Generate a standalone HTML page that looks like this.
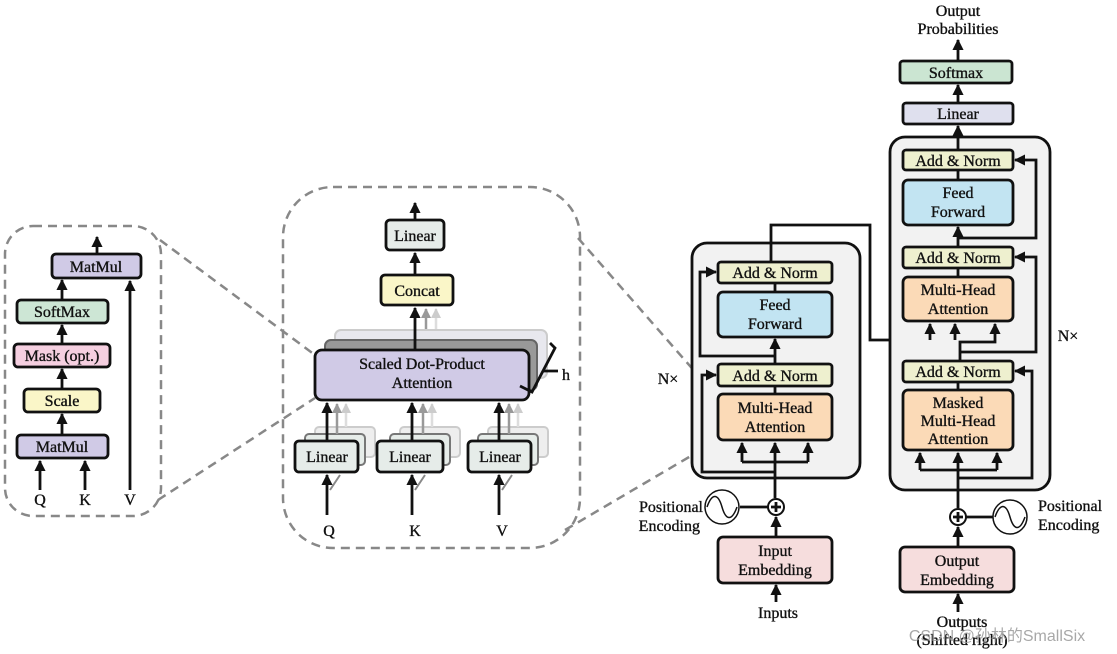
<!DOCTYPE html>
<html><head><meta charset="utf-8"><style>
html,body{margin:0;padding:0;background:#fff;}
svg{display:block;}
text{font-family:"Liberation Serif",serif;font-size:16px;fill:#111;stroke:#111;stroke-width:0.35;text-anchor:middle;}
.b{stroke:#111;stroke-width:2.8;}
.l{stroke:#111;stroke-width:2.8;fill:none;}
.d{stroke:#888;stroke-width:2.5;fill:none;stroke-dasharray:9,6;}
</style></head><body>
<svg width="1117" height="654" viewBox="0 0 1117 654" xmlns="http://www.w3.org/2000/svg">
<defs>
<marker id="a" viewBox="0 0 10 10" refX="9" refY="5" markerWidth="4" markerHeight="4.5" orient="auto"><path d="M0,0L10,5L0,10z" fill="#111"/></marker>
<marker id="ag" viewBox="0 0 10 10" refX="9" refY="5" markerWidth="4" markerHeight="4.5" orient="auto"><path d="M0,0L10,5L0,10z" fill="#999"/></marker>
<marker id="al" viewBox="0 0 10 10" refX="9" refY="5" markerWidth="4" markerHeight="4.5" orient="auto"><path d="M0,0L10,5L0,10z" fill="#ccc"/></marker>
</defs>

<path class="d" d="M160,240 L315,355 M158,500 L315,398 M578,238 L718,398 M565,530 L718,440"/>

<!-- LEFT PANEL -->
<rect class="d" x="5" y="226" width="156" height="290" rx="28"/>
<line class="l" x1="97" y1="254" x2="97" y2="237" marker-end="url(#a)"/>
<rect class="b" x="52" y="254" width="89" height="24" rx="4" fill="#d0cae6"/>
<text x="96" y="272">MatMul</text>
<line class="l" x1="62" y1="300" x2="62" y2="280" marker-end="url(#a)"/>
<rect class="b" x="17" y="300" width="91" height="23" rx="4" fill="#cde6d5"/>
<text x="62" y="317">SoftMax</text>
<line class="l" x1="62" y1="344" x2="62" y2="325" marker-end="url(#a)"/>
<rect class="b" x="14" y="344" width="96" height="23" rx="4" fill="#f5cfe0"/>
<text x="62" y="361">Mask (opt.)</text>
<line class="l" x1="62" y1="389" x2="62" y2="369" marker-end="url(#a)"/>
<rect class="b" x="24" y="389" width="76" height="23" rx="4" fill="#faf6c8"/>
<text x="62" y="406">Scale</text>
<line class="l" x1="62" y1="435" x2="62" y2="414" marker-end="url(#a)"/>
<rect class="b" x="17" y="435" width="91" height="23" rx="4" fill="#d0cae6"/>
<text x="62" y="452">MatMul</text>
<line class="l" x1="40" y1="490" x2="40" y2="461" marker-end="url(#a)"/>
<line class="l" x1="85" y1="490" x2="85" y2="461" marker-end="url(#a)"/>
<line class="l" x1="130" y1="490" x2="130" y2="281" marker-end="url(#a)"/>
<text x="40" y="505">Q</text><text x="85" y="505">K</text><text x="130" y="505">V</text>

<!-- MIDDLE PANEL -->
<rect class="d" x="283" y="187" width="297" height="361" rx="50"/>
<line class="l" x1="415" y1="220" x2="415" y2="203" marker-end="url(#a)"/>
<rect class="b" x="386" y="220" width="58" height="30" rx="4" fill="#e6ece9"/>
<text x="415" y="241">Linear</text>
<line class="l" x1="415" y1="275" x2="415" y2="253" marker-end="url(#a)"/>
<rect class="b" x="381" y="275" width="72" height="30" rx="4" fill="#faf6c8"/>
<text x="417" y="296">Concat</text>
<line stroke="#ddd" stroke-width="2.5" x1="436" y1="330" x2="436" y2="309" marker-end="url(#al)"/>
<line stroke="#999" stroke-width="2.5" x1="426" y1="340" x2="426" y2="309" marker-end="url(#ag)"/>
<rect x="335" y="330" width="212" height="48" rx="6" fill="#e8e8ee" stroke="#ccc" stroke-width="2"/>
<rect x="325" y="340" width="212" height="50" rx="6" fill="#999" stroke="#666" stroke-width="2"/>
<line class="l" x1="415" y1="350" x2="415" y2="308" marker-end="url(#a)"/>
<rect class="b" x="315" y="350" width="214" height="50" rx="7" fill="#d0cae6"/>
<text x="422" y="369">Scaled Dot-Product</text>
<text x="422" y="388">Attention</text>
<path class="l" d="M550,343 L555,348 L532,392 L520,386 M543,371 L558,371"/>
<text x="566" y="380">h</text>
<g>
<rect x="315" y="427" width="60" height="30" rx="4" fill="#eee" stroke="#ccc" stroke-width="2"/>
<rect x="305" y="434" width="60" height="31" rx="4" fill="#e6ece9" stroke="#777" stroke-width="2"/>
<rect x="400" y="427" width="60" height="30" rx="4" fill="#eee" stroke="#ccc" stroke-width="2"/>
<rect x="390" y="434" width="60" height="31" rx="4" fill="#e6ece9" stroke="#777" stroke-width="2"/>
<rect x="488" y="427" width="60" height="30" rx="4" fill="#eee" stroke="#ccc" stroke-width="2"/>
<rect x="478" y="434" width="60" height="31" rx="4" fill="#e6ece9" stroke="#777" stroke-width="2"/>
<line stroke="#ddd" stroke-width="2.5" x1="346" y1="427" x2="346" y2="404" marker-end="url(#al)"/>
<line stroke="#999" stroke-width="2.5" x1="337" y1="434" x2="337" y2="404" marker-end="url(#ag)"/>
<line stroke="#ddd" stroke-width="2.5" x1="432" y1="427" x2="432" y2="404" marker-end="url(#al)"/>
<line stroke="#999" stroke-width="2.5" x1="423" y1="434" x2="423" y2="404" marker-end="url(#ag)"/>
<line stroke="#ddd" stroke-width="2.5" x1="518" y1="427" x2="518" y2="404" marker-end="url(#al)"/>
<line stroke="#999" stroke-width="2.5" x1="509" y1="434" x2="509" y2="404" marker-end="url(#ag)"/>
<line class="l" x1="327" y1="441" x2="327" y2="403" marker-end="url(#a)"/>
<line class="l" x1="412" y1="441" x2="412" y2="403" marker-end="url(#a)"/>
<line class="l" x1="499" y1="441" x2="499" y2="403" marker-end="url(#a)"/>
<rect class="b" x="295" y="441" width="63" height="31" rx="4" fill="#e6ece9"/>
<rect class="b" x="377" y="441" width="66" height="31" rx="4" fill="#e6ece9"/>
<rect class="b" x="468" y="441" width="63" height="31" rx="4" fill="#e6ece9"/>
<text x="327" y="462">Linear</text><text x="410" y="462">Linear</text><text x="500" y="462">Linear</text>
<path stroke="#888" stroke-width="2" fill="none" d="M330,490 L340,475 M415,490 L425,475 M502,490 L512,475"/>
<line class="l" x1="327" y1="515" x2="327" y2="475" marker-end="url(#a)"/>
<line class="l" x1="412" y1="515" x2="412" y2="475" marker-end="url(#a)"/>
<line class="l" x1="499" y1="515" x2="499" y2="475" marker-end="url(#a)"/>
<text x="329" y="536">Q</text><text x="415" y="536">K</text><text x="502" y="536">V</text>
</g>

<!-- ENCODER -->
<rect x="692" y="243" width="168" height="235" rx="15" fill="#f2f2f2" stroke="#111" stroke-width="2.8"/>
<path class="l" d="M771,262 L771,225 L870,225 L870,340 L930,340"/>
<line class="l" x1="775" y1="292" x2="775" y2="284"/>
<rect class="b" x="718" y="262" width="114" height="21" rx="3" fill="#eef0cf"/>
<text x="775" y="278">Add &amp; Norm</text>
<rect class="b" x="718" y="292" width="114" height="45" rx="5" fill="#c2e4f2"/>
<text x="775" y="310">Feed</text><text x="775" y="329">Forward</text>
<line class="l" x1="775" y1="364" x2="775" y2="339" marker-end="url(#a)"/>
<path class="l" d="M775,356 L700,356 L700,272 L716,272" marker-end="url(#a)"/>
<rect class="b" x="718" y="364" width="114" height="22" rx="3" fill="#eef0cf"/>
<text x="775" y="381">Add &amp; Norm</text>
<line class="l" x1="775" y1="394" x2="775" y2="387"/>
<rect class="b" x="718" y="394" width="114" height="46" rx="5" fill="#fbdab7"/>
<text x="775" y="413">Multi-Head</text><text x="775" y="432">Attention</text>
<line class="l" x1="775" y1="498" x2="775" y2="443" marker-end="url(#a)"/>
<line class="l" x1="742" y1="462" x2="742" y2="443" marker-end="url(#a)"/>
<line class="l" x1="808" y1="462" x2="808" y2="443" marker-end="url(#a)"/>
<path class="l" d="M742,462 L808,462"/>
<path class="l" d="M775,472 L702,472 L702,375 L716,375" marker-end="url(#a)"/>
<text x="668" y="384">N×</text>
<circle cx="776" cy="507" r="8" fill="#fff" stroke="#111" stroke-width="2"/>
<path class="l" d="M771,507h10M776,502v10" stroke-width="2"/>
<line class="l" x1="740" y1="507" x2="768" y2="507"/>
<circle cx="722" cy="507" r="17" fill="#fff" stroke="#111" stroke-width="1.5"/>
<path d="M707,507 C712,493 718,493 722,507 C726,521 732,521 737,507" fill="none" stroke="#111" stroke-width="1.5"/>
<text x="703" y="512" style="text-anchor:end">Positional</text>
<text x="700" y="531" style="text-anchor:end">Encoding</text>
<line class="l" x1="776" y1="537" x2="776" y2="517" marker-end="url(#a)"/>
<rect class="b" x="718" y="537" width="114" height="46" rx="5" fill="#f6dddd"/>
<text x="775" y="556">Input</text><text x="775" y="575">Embedding</text>
<line class="l" x1="776" y1="602" x2="776" y2="585" marker-end="url(#a)"/>
<text x="778" y="618">Inputs</text>

<!-- DECODER -->
<text x="958" y="16">Output</text><text x="958" y="34">Probabilities</text>
<line class="l" x1="958" y1="61" x2="958" y2="40" marker-end="url(#a)"/>
<rect class="b" x="900" y="61" width="112" height="22" rx="3" fill="#cbe5d2"/>
<text x="956" y="78">Softmax</text>
<line class="l" x1="958" y1="103" x2="958" y2="85" marker-end="url(#a)"/>
<rect class="b" x="903" y="103" width="110" height="21" rx="3" fill="#dfe0ee"/>
<text x="958" y="119">Linear</text>
<rect x="890" y="137" width="160" height="353" rx="15" fill="#f2f2f2" stroke="#111" stroke-width="2.8"/>
<line class="l" x1="958" y1="150" x2="958" y2="126" marker-end="url(#a)"/>
<rect class="b" x="903" y="150" width="110" height="20" rx="3" fill="#eef0cf"/>
<text x="958" y="166">Add &amp; Norm</text>
<line class="l" x1="958" y1="180" x2="958" y2="171"/>
<rect class="b" x="903" y="180" width="110" height="45" rx="5" fill="#c2e4f2"/>
<text x="958" y="198">Feed</text><text x="958" y="217">Forward</text>
<line class="l" x1="958" y1="247" x2="958" y2="227" marker-end="url(#a)"/>
<path class="l" d="M958,238 L1036,238 L1036,160 L1015,160" marker-end="url(#a)"/>
<rect class="b" x="903" y="247" width="110" height="21" rx="3" fill="#eef0cf"/>
<text x="958" y="263">Add &amp; Norm</text>
<line class="l" x1="958" y1="277" x2="958" y2="269"/>
<rect class="b" x="903" y="277" width="110" height="44" rx="5" fill="#fbdab7"/>
<text x="958" y="295">Multi-Head</text><text x="958" y="314">Attention</text>
<line class="l" x1="930" y1="340" x2="930" y2="324" marker-end="url(#a)"/>
<line class="l" x1="955" y1="340" x2="955" y2="324" marker-end="url(#a)"/>
<path class="l" d="M960,361 L960,342 L995,342 L995,324" marker-end="url(#a)"/>
<path class="l" d="M960,352 L1036,352 L1036,257 L1015,257" marker-end="url(#a)"/>
<rect class="b" x="903" y="361" width="110" height="21" rx="3" fill="#eef0cf"/>
<text x="958" y="377">Add &amp; Norm</text>
<line class="l" x1="958" y1="390" x2="958" y2="383"/>
<rect class="b" x="903" y="390" width="110" height="60" rx="5" fill="#fbdab7"/>
<text x="958" y="408">Masked</text><text x="958" y="426">Multi-Head</text><text x="958" y="444">Attention</text>
<line class="l" x1="958" y1="508" x2="958" y2="453" marker-end="url(#a)"/>
<line class="l" x1="920" y1="470" x2="920" y2="453" marker-end="url(#a)"/>
<line class="l" x1="997" y1="470" x2="997" y2="453" marker-end="url(#a)"/>
<path class="l" d="M920,470 L997,470"/>
<path class="l" d="M958,478 L1032,478 L1032,371 L1015,371" marker-end="url(#a)"/>
<text x="1068" y="341">N×</text>
<circle cx="958" cy="517" r="8" fill="#fff" stroke="#111" stroke-width="2"/>
<path class="l" d="M953,517h10M958,512v10" stroke-width="2"/>
<line class="l" x1="966" y1="517" x2="993" y2="517"/>
<circle cx="1010" cy="517" r="17" fill="#fff" stroke="#111" stroke-width="1.5"/>
<path d="M995,517 C1000,503 1006,503 1010,517 C1014,531 1020,531 1025,517" fill="none" stroke="#111" stroke-width="1.5"/>
<text x="1038" y="511" style="text-anchor:start">Positional</text>
<text x="1038" y="530" style="text-anchor:start">Encoding</text>
<line class="l" x1="958" y1="547" x2="958" y2="527" marker-end="url(#a)"/>
<rect class="b" x="900" y="547" width="114" height="45" rx="5" fill="#f6dddd"/>
<text x="957" y="566">Output</text><text x="957" y="585">Embedding</text>
<line class="l" x1="958" y1="612" x2="958" y2="594" marker-end="url(#a)"/>
<text x="962" y="627">Outputs</text>
<text x="962" y="645">(Shifted right)</text>
<text x="997" y="641" style="font-family:'Liberation Sans','Noto Sans CJK SC',sans-serif;font-size:16px;fill:#999;stroke:none;opacity:0.85">CSDN @孙林的SmallSix</text>
</svg>
</body></html>
